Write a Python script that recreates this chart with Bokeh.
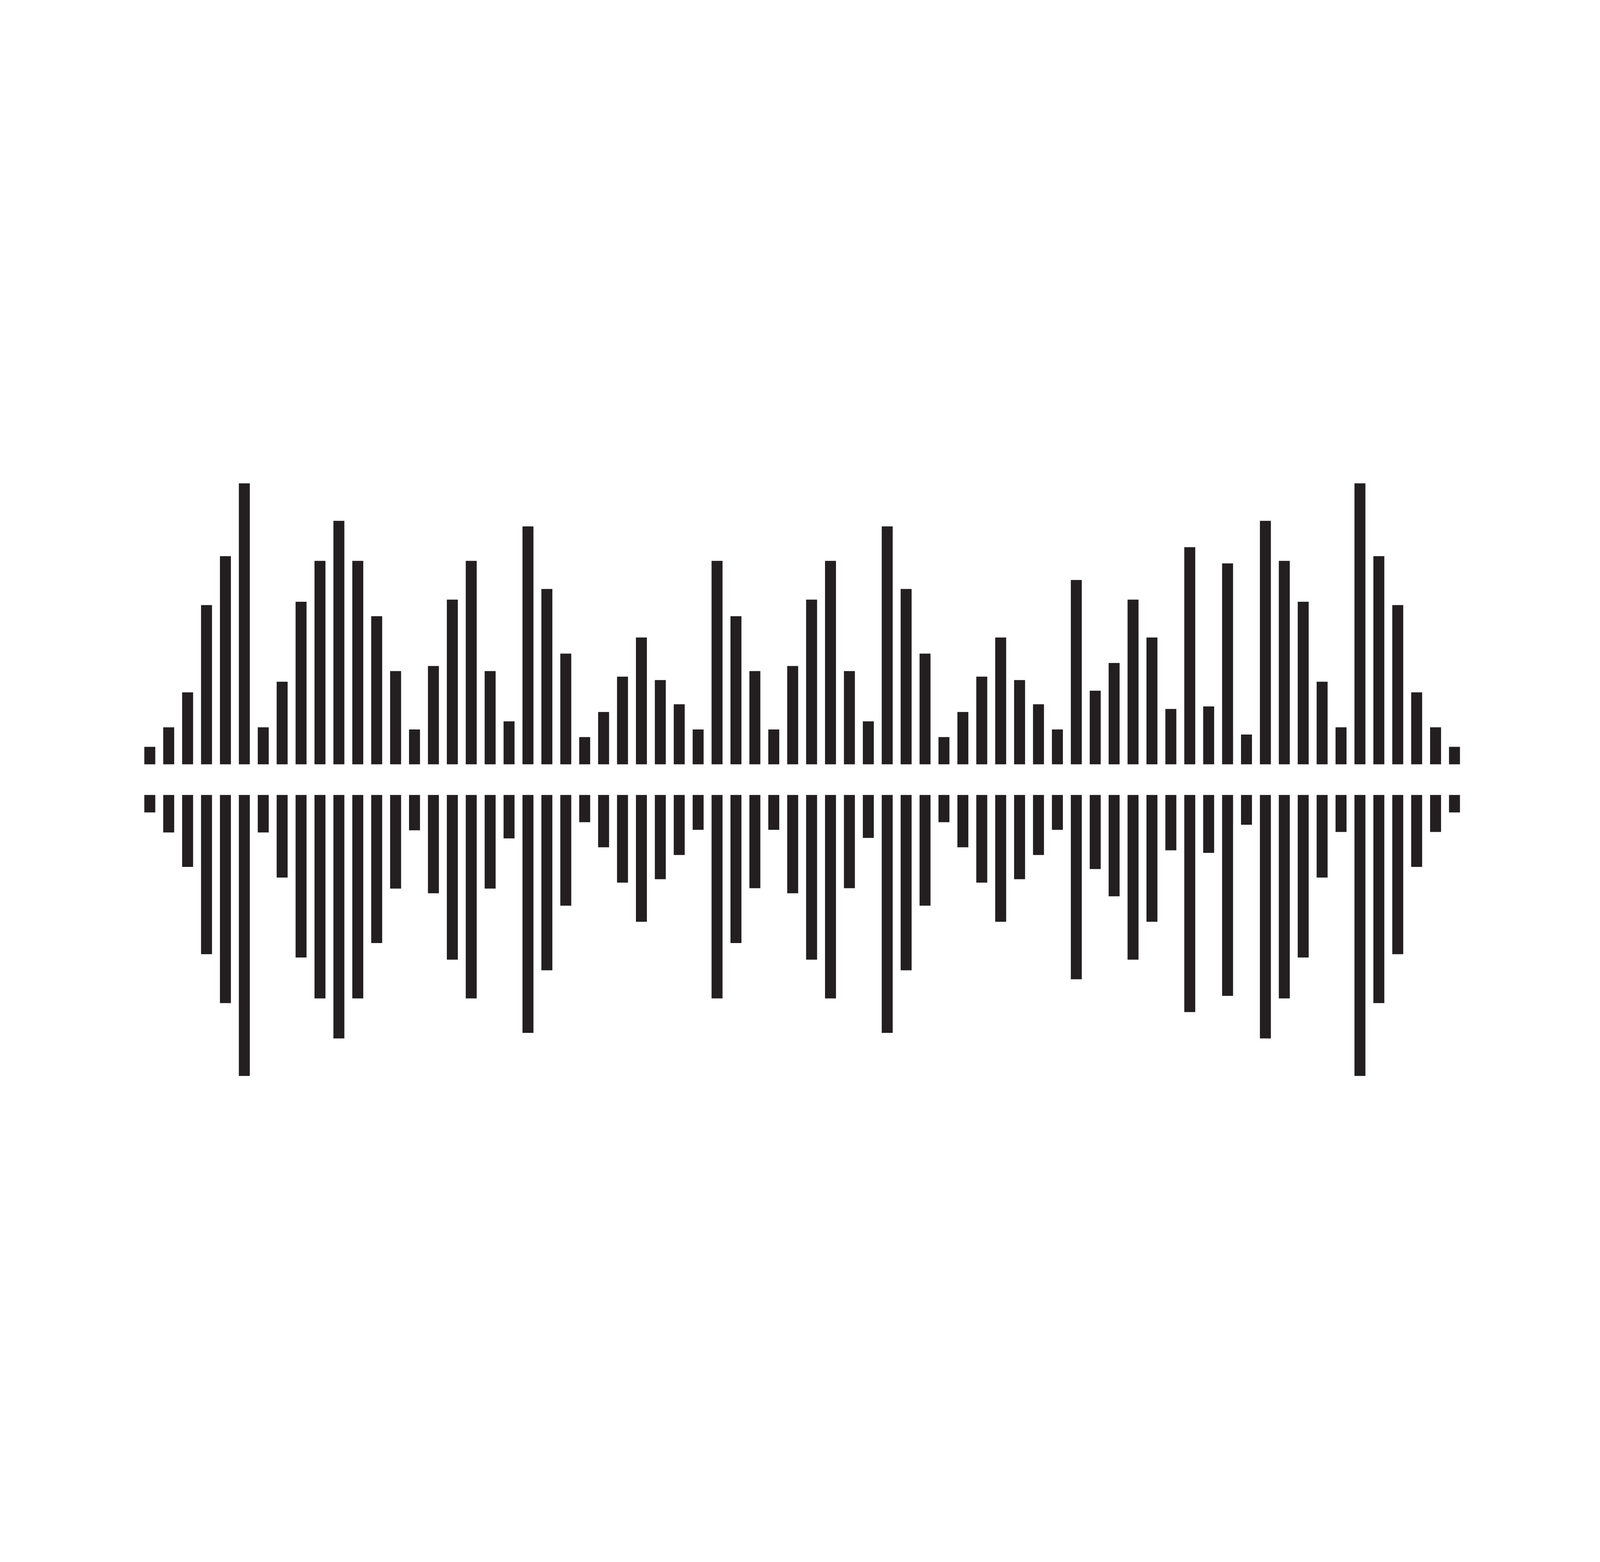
from bokeh.plotting import figure
from bokeh.models import ColumnDataSource, Range1d
from bokeh.embed import file_html
from bokeh.resources import INLINE

# ---- data: amplitude of each bar (upper half and mirrored lower half) ----
upper = [41, 87, 169, 374, 489, 660, 87, 194, 382, 478,
         572, 478, 348, 219, 82, 231, 387, 478, 219, 101,
         559, 412, 260, 64, 123, 206, 298, 198, 141, 82,
         478, 348, 219, 82, 231, 387, 478, 219, 101, 559,
         412, 260, 64, 123, 206, 298, 198, 141, 82, 433,
         173, 238, 387, 298, 130, 510, 136, 472, 70, 572,
         478, 382, 194, 87, 660, 489, 374, 169, 87, 41]
lower = [41, 88, 169, 374, 489, 660, 88, 194, 382, 478,
         572, 478, 348, 220, 83, 231, 387, 478, 220, 102,
         559, 412, 260, 64, 123, 206, 298, 198, 141, 82,
         478, 348, 219, 82, 231, 387, 478, 219, 101, 559,
         412, 260, 64, 123, 206, 298, 198, 141, 82, 433,
         174, 238, 387, 298, 130, 510, 136, 472, 70, 572,
         478, 382, 194, 87, 660, 489, 374, 169, 87, 41]
index = list(range(len(upper)))

# ---- layout constants (reference frame: 4984 x 3984 plot inside the page) ----
REF_W, H = 4984, 3984
GAP = 36.0            # half gap between the two halves (amplitude units)
PX_X = 58.9           # reference pixels per bar step
PX_Y = 1.09           # pixels per amplitude unit
FIRST_X = 474 - 8     # pixel of the first bar centre within the plot
CENTER_Y = 2004 - 8   # pixel of the centre line within the plot
COLOR = "#231f20"

x0 = -FIRST_X / PX_X
x1 = x0 + REF_W / PX_X
y1 = CENTER_Y / PX_Y
y0 = y1 - H / PX_Y

src = ColumnDataSource(dict(
    x=index,
    up_bottom=[GAP] * len(upper),
    up_top=[GAP + v for v in upper],
    lo_top=[-GAP] * len(lower),
    lo_bottom=[-GAP - v for v in lower],
))

p = figure(height=H, sizing_mode="stretch_width",
           output_backend="svg", toolbar_location=None,
           x_range=Range1d(x0, x1), y_range=Range1d(y0, y1),
           min_border=0, background_fill_color="white",
           border_fill_color="white", outline_line_color=None)
p.xaxis.visible = False
p.yaxis.visible = False
p.grid.visible = False

p.vbar(x="x", width=0.58, bottom="up_bottom", top="up_top", source=src,
       fill_color=COLOR, line_color=None)
p.vbar(x="x", width=0.58, bottom="lo_bottom", top="lo_top", source=src,
       fill_color=COLOR, line_color=None)

open("out.html", "w").write(file_html(p, INLINE))
